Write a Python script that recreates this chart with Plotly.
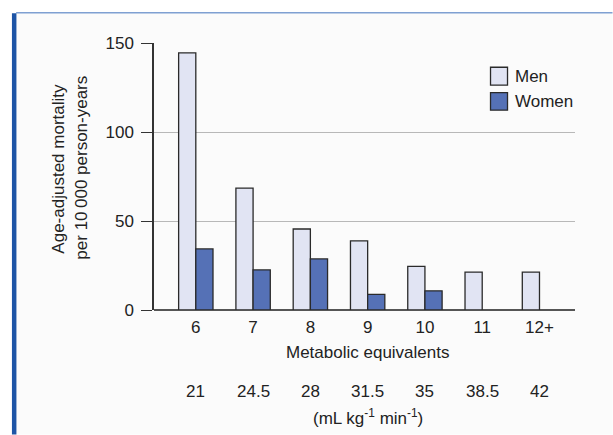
import plotly.graph_objects as go

categories = ["6", "7", "8", "9", "10", "11", "12+"]
men = [144.4, 68.5, 45.5, 38.8, 24.5, 21.3, 21.3]
women = [34.3, 22.5, 28.7, 8.8, 10.8, None, None]
vo2_labels = ["21", "24.5", "28", "31.5", "35", "38.5", "42"]
y_ticks = [0, 50, 100, 150]

FONT = "Liberation Sans, Arial, sans-serif"
FS = 17
TXT = "#222222"
MEN_C = "#e1e4f3"
WOMEN_C = "#5571b6"
EDGE = "#2a2a2a"
BG = "#fbfbfb"

W, H = 613, 435
L, R, T, B = 154.4, 37.5, 42.7, 124.7
PW, PH = W - L - R, H - T - B


def px(x):
    return (x - L) / PW


def py(y):
    return (H - B - y) / PH


fig = go.Figure()
fig.add_trace(go.Bar(x=categories, y=men, name="Men", marker=dict(color=MEN_C, line=dict(color=EDGE, width=1.3))))
fig.add_trace(go.Bar(x=categories, y=women, name="Women", marker=dict(color=WOMEN_C, line=dict(color=EDGE, width=1.3))))

shapes = [
    dict(type="rect", xref="paper", yref="paper", x0=px(16.5), x1=px(613), y0=py(435), y1=py(12.5),
         fillcolor=BG, line=dict(width=0), layer="below"),
    dict(type="line", xref="paper", yref="paper", x0=px(16.5), x1=px(613), y0=py(12.5), y1=py(12.5),
         line=dict(color="#7fa0d2", width=1.5), layer="below"),
    dict(type="rect", xref="paper", yref="paper", x0=px(12.3), x1=px(16.8), y0=py(435), y1=py(13),
         fillcolor="#1d54a6", line=dict(width=0), layer="below"),
    # legend swatches
    dict(type="rect", xref="paper", yref="paper", x0=px(491), x1=px(508), y0=py(85), y1=py(67),
         fillcolor=MEN_C, line=dict(color=EDGE, width=1.3), layer="above"),
    dict(type="rect", xref="paper", yref="paper", x0=px(491), x1=px(508), y0=py(110), y1=py(92.5),
         fillcolor=WOMEN_C, line=dict(color=EDGE, width=1.3), layer="above"),
]


def txt(text, x, y, xref="paper", xanchor="center", angle=0):
    return dict(text=text, xref=xref, yref="paper", x=x, y=y, xanchor=xanchor, yanchor="middle",
                textangle=angle, showarrow=False, font=dict(family=FONT, size=FS, color=TXT))


annotations = [
    txt("Men", px(513), py(76), xanchor="left"),
    txt("Women", px(513), py(101.5), xanchor="left"),
    txt("Metabolic equivalents", 3, py(353), xref="x"),
    txt("(mL kg<sup>-1</sup> min<sup>-1</sup>)", 3, py(418), xref="x"),
    txt("Age-adjusted mortality", px(58), py(169), angle=-90),
    txt("per 10\u2009000 person-years", px(81), py(168), angle=-90),
]
for i, lab in enumerate(vo2_labels):
    annotations.append(txt(lab, i, py(391.5), xref="x"))

fig.update_layout(
    width=W, height=H,
    margin=dict(l=L, r=R, t=T, b=B, pad=0),
    paper_bgcolor="white", plot_bgcolor=BG,
    barmode="group", bargap=0.4, bargroupgap=0,
    showlegend=False,
    shapes=shapes, annotations=annotations,
    font=dict(family=FONT, size=FS, color=TXT),
    xaxis=dict(range=[-0.73, 6.62], showgrid=False, showline=False, ticks="", zeroline=False,
               tickfont=dict(family=FONT, size=FS, color=TXT), ticklabelstandoff=5),
    yaxis=dict(range=[0, 150], tickvals=y_ticks, showgrid=True, gridcolor="#b8b8b8", gridwidth=1,
               showline=True, linecolor="#333333", linewidth=1.5, ticks="outside", ticklen=11,
               tickcolor="#333333", tickwidth=1.3, zeroline=True, zerolinecolor="#555555", zerolinewidth=2,
               tickfont=dict(family=FONT, size=FS, color=TXT), ticklabelstandoff=4),
)

fig.write_html("out.html", config={"displayModeBar": False},
               post_script="document.body.style.margin='0';document.body.style.overflow='hidden';")
